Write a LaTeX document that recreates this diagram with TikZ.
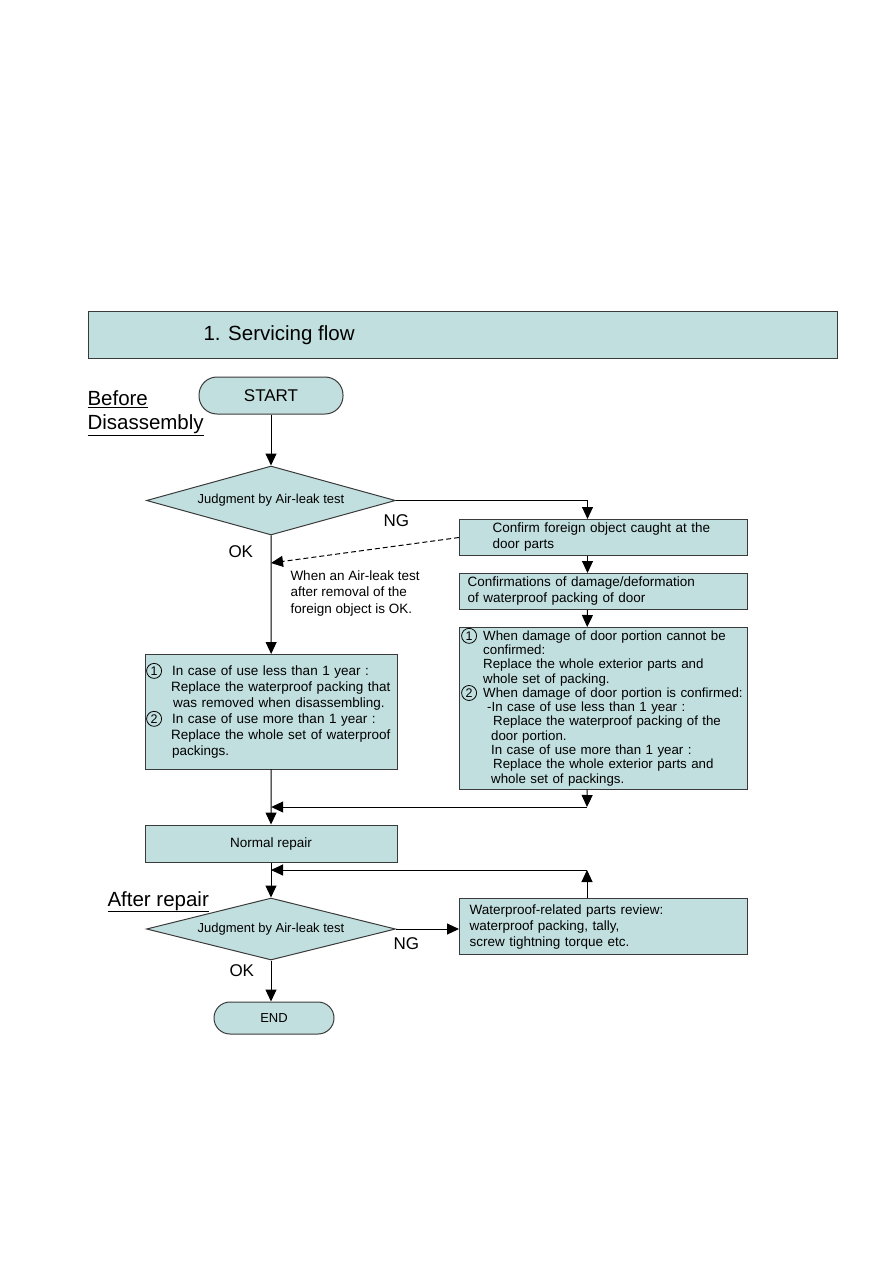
\documentclass[tikz,border=0pt]{standalone}
\usepackage{fontspec}
\setmainfont{Liberation Sans}
\usetikzlibrary{arrows.meta, shapes.geometric}
\definecolor{cfill}{HTML}{C2DFDF}
\definecolor{cline}{HTML}{3A3A3A}
\newcommand{\fsz}[2]{\fontsize{#1}{#2}\selectfont}
\newcommand{\cnum}[2]{\makebox[#2][l]{\smash{\tikz[baseline=(c.base)] \node[circle, draw=black, line width=0.8pt, inner sep=0pt, minimum size=15pt, font=\fsz{12.5}{13}] (c) {#1};}}}
\tikzset{
  every picture/.style={line width=1pt},
  box/.style={draw=cline, fill=cfill, anchor=north west, align=left, inner ysep=0pt, font=\fsz{13.5}{16}},
  term/.style={draw=cline, fill=cfill, rounded corners=#1, inner sep=0pt},
  judge/.style={diamond, draw=cline, fill=cfill, aspect=3.6, inner sep=0pt, minimum width=249pt, font=\fsz{13}{15}},
  arr/.style={-{Triangle[length=12pt, width=11pt]}, draw=black},
  tag/.style={font=\fsz{17}{20}, inner sep=0pt},
  head/.style={font=\fsz{20.5}{24}, inner sep=0pt, align=left},
  note/.style={font=\fsz{13.5}{16.5}, align=left, inner sep=0pt},
}

\begin{document}
\begin{tikzpicture}[x=1pt, y=-1pt]
  \useasboundingbox (0,0) rectangle (893,1263);
  % title bar
  \node[draw=cline, fill=cfill, anchor=north west, minimum width=749pt, minimum height=47pt, inner sep=0pt] (bar) at (88,311) {};
  \node[head, anchor=west] (ttl) at (203,335) {1. Servicing flow};
  \node[head, anchor=north west] (before) at (87,390) {\underline{Before}\\\underline{Disassembly}};
  \node[head, anchor=base west] (after) at (107,906) {\underline{After repair}};

  % main column
  \node[term=18pt, minimum width=144pt, minimum height=37pt, font=\fsz{17}{20}] (start) at (271,395.5) {START};
  \node[judge, minimum height=69pt] (j1) at (271,500.5) {Judgment by Air-leak test};
  \node[box, minimum width=252pt, minimum height=115pt, inner xsep=1pt, text width=250pt] (lbox) at (145,654) {%
    \cnum{1}{26pt}In case of use less than 1 year :\\
    \hspace*{25pt}Replace the waterproof packing that\\
    \hspace*{27pt}was removed when disassembling.\\
    \cnum{2}{26pt}In case of use more than 1 year :\\
    \hspace*{25pt}Replace the whole set of waterproof\\
    \hspace*{26pt}packings.};
  \node[draw=cline, fill=cfill, minimum width=252pt, minimum height=37pt, font=\fsz{13.5}{16}] (repair) at (271,843.5) {Normal repair};
  \node[judge, minimum height=62pt] (j2) at (271,929) {Judgment by Air-leak test};
  \node[term=16pt, minimum width=120pt, minimum height=32pt, font=\fsz{13}{15}] (end) at (274,1018) {END};

  % right column
  \node[box, minimum width=288pt, minimum height=36pt, inner xsep=33pt, text width=222pt] (b1) at (459,519) {Confirm foreign object caught at the\\door parts};
  \node[box, minimum width=288pt, minimum height=36pt, inner xsep=8pt, text width=272pt] (b2) at (459,573) {Confirmations of damage/deformation\\of waterproof packing of door};
  \node[box, minimum width=288pt, minimum height=162pt, inner xsep=2pt, text width=284pt, font=\fsz{13.3}{14.3}] (b3) at (459,627) {%
    \cnum{1}{22pt}When damage of door portion cannot be\\
    \hspace*{22pt}confirmed:\\
    \hspace*{22pt}Replace the whole exterior parts and\\
    \hspace*{22pt}whole set of packing.\\
    \cnum{2}{22pt}When damage of door portion is confirmed:\\
    \hspace*{26pt}-In case of use less than 1 year :\\
    \hspace*{32pt}Replace the waterproof packing of the\\
    \hspace*{30pt}door portion.\\
    \hspace*{30pt}In case of use more than 1 year :\\
    \hspace*{32pt}Replace the whole exterior parts and\\
    \hspace*{30pt}whole set of packings.};
  \node[box, minimum width=288pt, minimum height=56pt, inner xsep=10pt, text width=268pt] (review) at (459,898) {Waterproof-related parts review:\\waterproof packing, tally,\\screw tightning torque etc.};

  % labels
  \node[tag, anchor=base west] (ng1) at (383,526) {NG};
  \node[tag, anchor=base west] (ok1) at (228,557) {OK};
  \node[tag, anchor=base west] (ng2) at (393,949) {NG};
  \node[tag, anchor=base west] (ok2) at (229,976) {OK};
  \node[note, anchor=north west] (hint) at (290,570) {When an Air-leak test\\after removal of the\\foreign object is OK.};

  % joints
  \coordinate (back) at (271,563);
  \coordinate (m1) at (587,807);
  \coordinate (m2) at (587,870);

  % connectors
  \draw[arr] (start) -- (j1);
  \draw[arr] (j1.east) -| ([xshift=-16pt]b1.north);
  \draw[arr, dash pattern=on 5pt off 3pt] (b1.west) -- (back);
  \draw[arr] (j1) -- (lbox);
  \draw[arr] ([xshift=-16pt]b1.south) -- ([xshift=-16pt]b2.north);
  \draw[arr] ([xshift=-16pt]b2.south) -- ([xshift=-16pt]b3.north);
  \draw[arr] ([xshift=-16pt]b3.south) -- (m1);
  \draw[arr] (m1) -- (m1 -| lbox.south);
  \draw[arr] (lbox) -- (repair);
  \draw[arr] (repair) -- (j2);
  \draw[arr] (review.north -| m2) -- (m2);
  \draw[arr] (m2) -- (m2 -| repair.south);
  \draw[arr] (j2.east) -- (j2.east -| review.west);
  \draw[arr] (j2.south) -- (j2.south |- end.north);
\end{tikzpicture}
\end{document}
